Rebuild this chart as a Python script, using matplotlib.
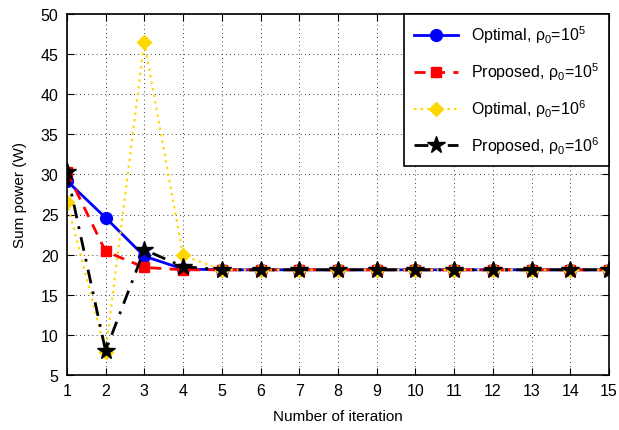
import matplotlib
matplotlib.use('Agg')
import matplotlib.pyplot as plt

plt.rcParams['font.family'] = ['Liberation Sans', 'DejaVu Sans']
plt.rcParams['mathtext.fontset'] = 'custom'
plt.rcParams['mathtext.rm'] = 'Liberation Sans'
plt.rcParams['mathtext.it'] = 'Liberation Sans'

iterations = list(range(1, 16))
opt_1e5 = [29.2, 24.6, 19.8, 18.2] + [18.1] * 11
prop_1e5 = [30.3, 20.4, 18.4, 18.1] + [18.1] * 11
opt_1e6 = [26.6, 7.9, 46.5, 19.9] + [18.1] * 11
prop_1e6 = [30.3, 8.0, 20.6, 18.5] + [18.1] * 11

fig = plt.figure(figsize=(6.19, 4.31), dpi=100)
ax = fig.add_axes([0.108, 0.128, 0.876, 0.837])

gold = '#FFD700'
ax.plot(iterations, opt_1e5, '-', color='blue', lw=2, marker='o', ms=8.5,
        label=r'Optimal, $\mathrm{\rho_0}$=10$^5$')
ax.plot(iterations, prop_1e5, '--', color='red', lw=2, marker='s', ms=7.5,
        dashes=(4, 3), label=r'Proposed, $\mathrm{\rho_0}$=10$^5$')
ax.plot(iterations, opt_1e6, ':', color=gold, lw=1.5, marker='D', ms=7.5,
        dashes=(1.2, 2), label=r'Optimal, $\mathrm{\rho_0}$=10$^6$')
ax.plot(iterations, prop_1e6, '-.', color='black', lw=2, marker='*', ms=13,
        dashes=(5, 3, 1, 3), label=r'Proposed, $\mathrm{\rho_0}$=10$^6$')

ax.set_xlim(1, 15)
ax.set_ylim(5, 50)
ax.set_xticks(iterations)
ax.set_yticks(range(5, 51, 5))
ax.grid(True, color='black', linestyle=(0, (1, 4)), linewidth=0.6)
ax.tick_params(direction='in', labelsize=11.5, top=True, right=True, length=5, pad=6)
for s in ax.spines.values():
    s.set_linewidth(1.2)

ax.set_xlabel('Number of iteration', fontsize=11, labelpad=8)
ax.set_ylabel('Sum power (W)', fontsize=11, labelpad=10)

leg = ax.legend(loc='upper right', fontsize=11.5, fancybox=False, framealpha=1,
                edgecolor='black', borderaxespad=0, handlelength=2.8,
                labelspacing=0.95, borderpad=0.6)
leg.get_frame().set_linewidth(1.2)

fig.savefig('out.png', dpi=100)
